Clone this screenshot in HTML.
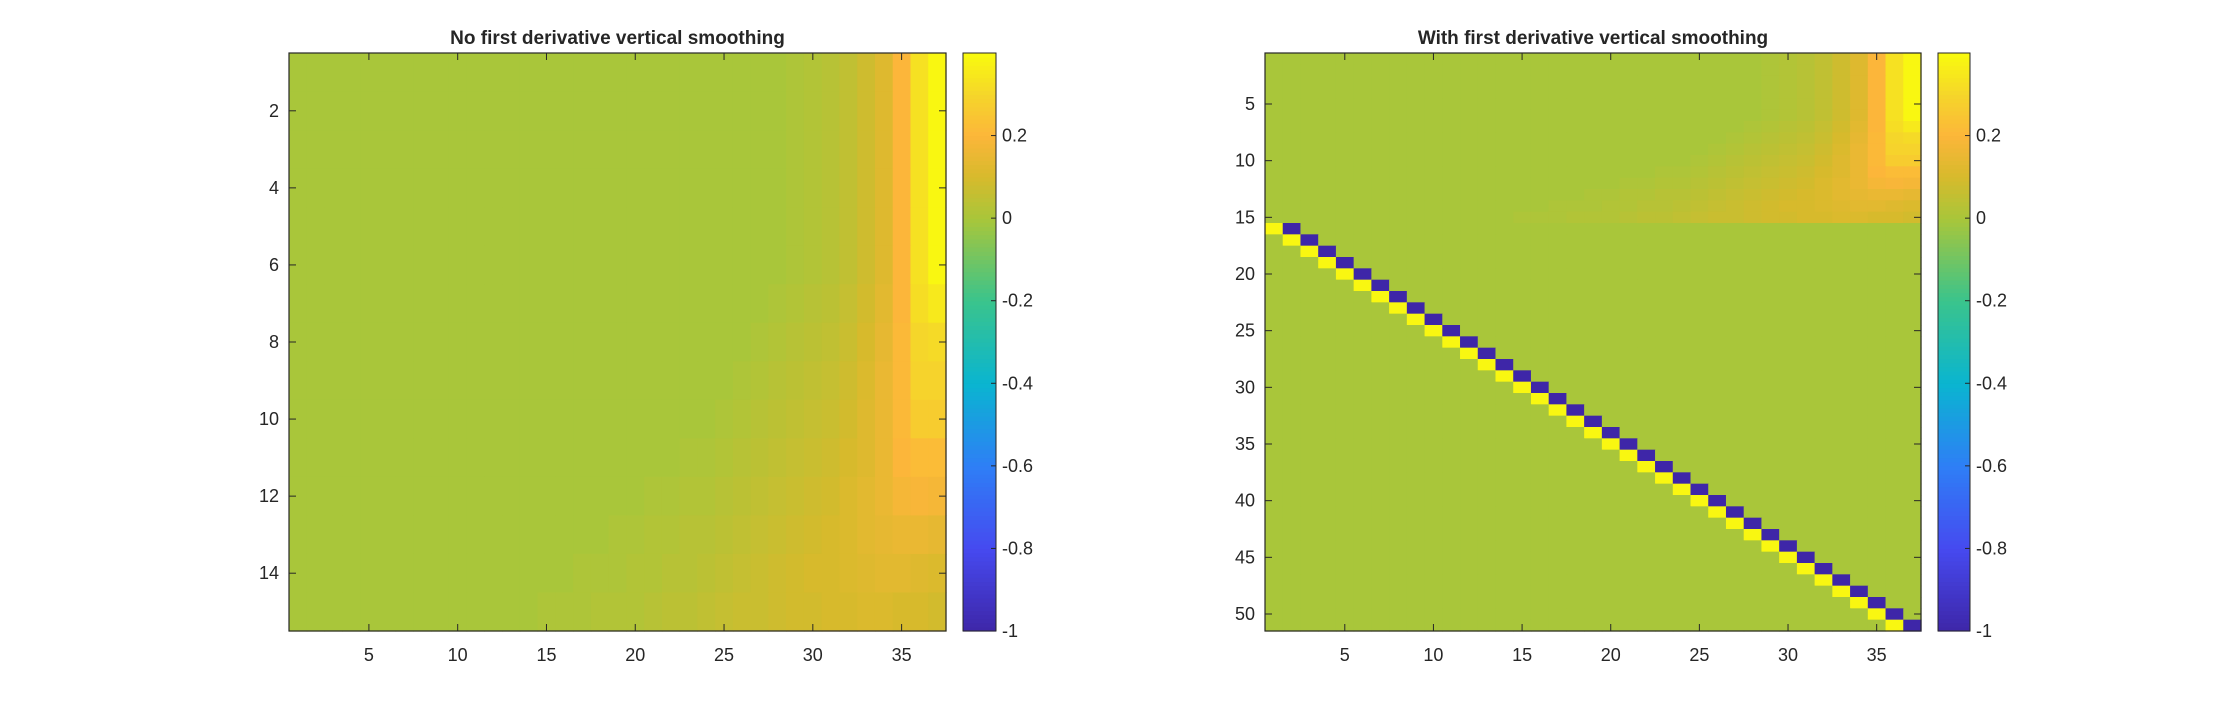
<!DOCTYPE html>
<html><head><meta charset="utf-8"><style>
html,body{margin:0;padding:0;background:#fff;}
svg text{font-family:"Liberation Sans",sans-serif;fill:#262626;}
</style></head><body>
<svg id="fig" width="2216" height="706" viewBox="0 0 2216 706" xmlns="http://www.w3.org/2000/svg">
<rect width="2216" height="706" fill="#fff"/>
<g id="left"></g>
<g id="right"></g>
</svg>
<script>
// ---- data ----
const leftTitle = "No first derivative vertical smoothing";
const rightTitle = "With first derivative vertical smoothing";
const leftXTicks = [5,10,15,20,25,30,35];
const leftYTicks = [2,4,6,8,10,12,14];
const rightXTicks = [5,10,15,20,25,30,35];
const rightYTicks = [5,10,15,20,25,30,35,40,45,50];
const cbTicks = [-1,-0.8,-0.6,-0.4,-0.2,0,0.2];
const cbTickLabels = ["-1","-0.8","-0.6","-0.4","-0.2","0","0.2"];
const cLim = [-1, 0.4];
const leftRows = [
[0,0,0,0,0,0,0,0,0,0, 0,0,0,0,0,0,0,0,0,0, 0,0,0,0,0,0,0,0, 0.01,0.02,0.03,0.05,0.08,0.12,0.2,0.33,0.39],
[0,0,0,0,0,0,0,0,0,0, 0,0,0,0,0,0,0,0,0,0, 0,0,0,0,0,0,0,0, 0.01,0.02,0.03,0.05,0.08,0.12,0.2,0.33,0.39],
[0,0,0,0,0,0,0,0,0,0, 0,0,0,0,0,0,0,0,0,0, 0,0,0,0,0,0,0,0, 0.01,0.02,0.03,0.05,0.08,0.12,0.2,0.33,0.39],
[0,0,0,0,0,0,0,0,0,0, 0,0,0,0,0,0,0,0,0,0, 0,0,0,0,0,0,0,0, 0.01,0.02,0.03,0.05,0.08,0.12,0.2,0.33,0.39],
[0,0,0,0,0,0,0,0,0,0, 0,0,0,0,0,0,0,0,0,0, 0,0,0,0,0,0,0,0, 0.01,0.02,0.03,0.05,0.08,0.12,0.2,0.33,0.39],
[0,0,0,0,0,0,0,0,0,0, 0,0,0,0,0,0,0,0,0,0, 0,0,0,0,0,0,0,0, 0.01,0.02,0.03,0.05,0.08,0.12,0.2,0.33,0.39],
[0,0,0,0,0,0,0,0,0,0, 0,0,0,0,0,0,0,0,0,0, 0,0,0,0,0,0,0, 0.01,0.02,0.03,0.04,0.06,0.09,0.13,0.2,0.32,0.35],
[0,0,0,0,0,0,0,0,0,0, 0,0,0,0,0,0,0,0,0,0, 0,0,0,0,0,0, 0.01,0.02,0.03,0.04,0.05,0.07,0.1,0.14,0.21,0.3,0.31],
[0,0,0,0,0,0,0,0,0,0, 0,0,0,0,0,0,0,0,0,0, 0,0,0,0,0, 0.01,0.02,0.03,0.04,0.05,0.06,0.08,0.11,0.15,0.21,0.29,0.29],
[0,0,0,0,0,0,0,0,0,0, 0,0,0,0,0,0,0,0,0,0, 0,0,0,0, 0.01,0.02,0.03,0.04,0.05,0.06,0.07,0.09,0.12,0.15,0.21,0.27,0.27],
[0,0,0,0,0,0,0,0,0,0, 0,0,0,0,0,0,0,0,0,0, 0,0, 0.01,0.01,0.02,0.03,0.04,0.05,0.06,0.07,0.08,0.1,0.12,0.15,0.2,0.22,0.22],
[0,0,0,0,0,0,0,0,0,0, 0,0,0,0,0,0,0,0,0,0, 0.01,0.01,0.02,0.02,0.03,0.04,0.05,0.06,0.07,0.08,0.09,0.11,0.13,0.15,0.18,0.19,0.18],
[0,0,0,0,0,0,0,0,0,0, 0,0,0,0,0,0,0,0, 0.01,0.01,0.02,0.02,0.03,0.03,0.04,0.05,0.06,0.07,0.08,0.09,0.1,0.11,0.13,0.14,0.15,0.15,0.14],
[0,0,0,0,0,0,0,0,0,0, 0,0,0,0,0,0, 0.01,0.01,0.01,0.02,0.02,0.03,0.03,0.04,0.05,0.06,0.07,0.08,0.09,0.1,0.1,0.11,0.12,0.13,0.13,0.12,0.11],
[0,0,0,0,0,0,0,0,0,0, 0,0,0,0, 0.01,0.01,0.01,0.02,0.02,0.02,0.03,0.04,0.04,0.05,0.06,0.07,0.07,0.08,0.09,0.09,0.1,0.1,0.11,0.11,0.1,0.1,0.09]
];
const rightTopRows = leftRows;
const rightRowCount = 51;
const diagPos = [0.39,0.39,0.39,0.39,0.39,0.39,0.39,0.39,0.39,0.39,0.39,0.39,0.39,0.39,0.39,0.39,0.39,0.39,0.39,0.39,0.39,0.39,0.39,0.39,0.39,0.39,0.39,0.39,0.39,0.39,0.39,0.39,0.39,0.39,0.39,0.39];
const diagNeg = [-1,-1,-1,-1,-1,-1,-1,-1,-1,-1,-1,-1,-1,-1,-1,-1,-1,-1,-1,-1,-1,-1,-1,-1,-1,-1,-1,-1,-1,-1,-1,-1,-1,-1,-1,-1];

// ---- colormap (parula-like) ----
const cmapV = [-1,-0.8,-0.6,-0.4,-0.2,0,0.1,0.2,0.3,0.4];
const cmapC = [[62,38,168],[70,74,240],[46,127,246],[10,181,208],[58,196,140],[169,198,58],[215,186,44],[252,182,58],[245,214,42],[249,251,14]];
function color(v){
  if(v<=cmapV[0]) return 'rgb('+cmapC[0]+')';
  for(let i=0;i<cmapV.length-1;i++){
    if(v<=cmapV[i+1]){const t=(v-cmapV[i])/(cmapV[i+1]-cmapV[i]);
      const c=cmapC[i].map((a,k)=>Math.round(a+(cmapC[i+1][k]-a)*t));return 'rgb('+c+')';}
  }
  return 'rgb('+cmapC[cmapC.length-1]+')';
}
const NS='http://www.w3.org/2000/svg';
function mk(tag,attrs,parent){const e=document.createElementNS(NS,tag);for(const k in attrs)e.setAttribute(k,attrs[k]);parent.appendChild(e);return e;}

function panel(g, P, matrix, nCols, nRows, title, xt, yt){
  const xS=c=>P.x0+(c-0.5)*(P.x1-P.x0)/nCols;
  const yS=r=>P.y0+(r-0.5)*(P.y1-P.y0)/nRows;
  const cw=(P.x1-P.x0)/nCols, ch=(P.y1-P.y0)/nRows;
  for(let r=0;r<nRows;r++)for(let c=0;c<nCols;c++){
    const v=matrix[r][c];
    const rc=mk('rect',{x:(xS(c+1)-cw/2).toFixed(2),y:(yS(r+1)-ch/2).toFixed(2),width:(cw+0.6).toFixed(2),height:(ch+0.6).toFixed(2),fill:color(v)},g);
    
    
  }
  const fr=mk('rect',{x:P.x0,y:P.y0,width:P.x1-P.x0,height:P.y1-P.y0,fill:'none',stroke:'#262626','stroke-width':1.2},g);
  
  
  xt.forEach(t=>{const x=xS(t);
    mk('line',{x1:x,x2:x,y1:P.y1,y2:P.y1-7,stroke:'#262626'},g);
    mk('line',{x1:x,x2:x,y1:P.y0,y2:P.y0+7,stroke:'#262626'},g);
    const tx=mk('text',{x:x,y:P.y1+30,'text-anchor':'middle','font-size':18},g);tx.textContent=t;
    
    
  });
  yt.forEach(t=>{const y=yS(t);
    mk('line',{x1:P.x0,x2:P.x0+7,y1:y,y2:y,stroke:'#262626'},g);
    mk('line',{x1:P.x1,x2:P.x1-7,y1:y,y2:y,stroke:'#262626'},g);
    const tx=mk('text',{x:P.x0-10,y:y+6,'text-anchor':'end','font-size':18},g);tx.textContent=t;
    
    
  });
  const tt=mk('text',{x:(P.x0+P.x1)/2,y:44,'text-anchor':'middle','font-size':19,'font-weight':'bold',fill:'#000'},g);tt.textContent=title;
  
  
  // colorbar
  const cbY=v=>P.y1-(v-cLim[0])/(cLim[1]-cLim[0])*(P.y1-P.y0);
  const N=140;
  for(let i=0;i<N;i++){const v0=cLim[0]+(cLim[1]-cLim[0])*i/N, v1=cLim[0]+(cLim[1]-cLim[0])*(i+1)/N;
    mk('rect',{x:P.cb0,y:cbY(v1),width:P.cb1-P.cb0,height:cbY(v0)-cbY(v1)+0.6,fill:color((v0+v1)/2)},g);}
  const cbf=mk('rect',{x:P.cb0,y:P.y0,width:P.cb1-P.cb0,height:P.y1-P.y0,fill:'none',stroke:'#262626','stroke-width':1},g);
  
  
  cbTicks.forEach((t,i)=>{const y=cbY(t);
    mk('line',{x1:P.cb1-5,x2:P.cb1,y1:y,y2:y,stroke:'#262626'},g);
    const tx=mk('text',{x:P.cb1+6,y:y+6,'font-size':18},g);tx.textContent=cbTickLabels[i];
    
    
  });
}
const rightMatrix=[];
for(let r=0;r<rightRowCount;r++){
  if(r<rightTopRows.length){rightMatrix.push(rightTopRows[r].slice());}
  else{rightMatrix.push(new Array(37).fill(0));}
}
diagPos.forEach((v,k)=>{rightMatrix[15+k][k]=v;});
diagNeg.forEach((v,k)=>{rightMatrix[15+k][k+1]=v;});

panel(document.getElementById('left'),{x0:289,x1:946,y0:53,y1:631,cb0:963,cb1:996},leftRows,37,15,leftTitle,leftXTicks,leftYTicks);
panel(document.getElementById('right'),{x0:1265,x1:1921,y0:53,y1:631,cb0:1938,cb1:1970},rightMatrix,37,51,rightTitle,rightXTicks,rightYTicks);
</script>
</body></html>
